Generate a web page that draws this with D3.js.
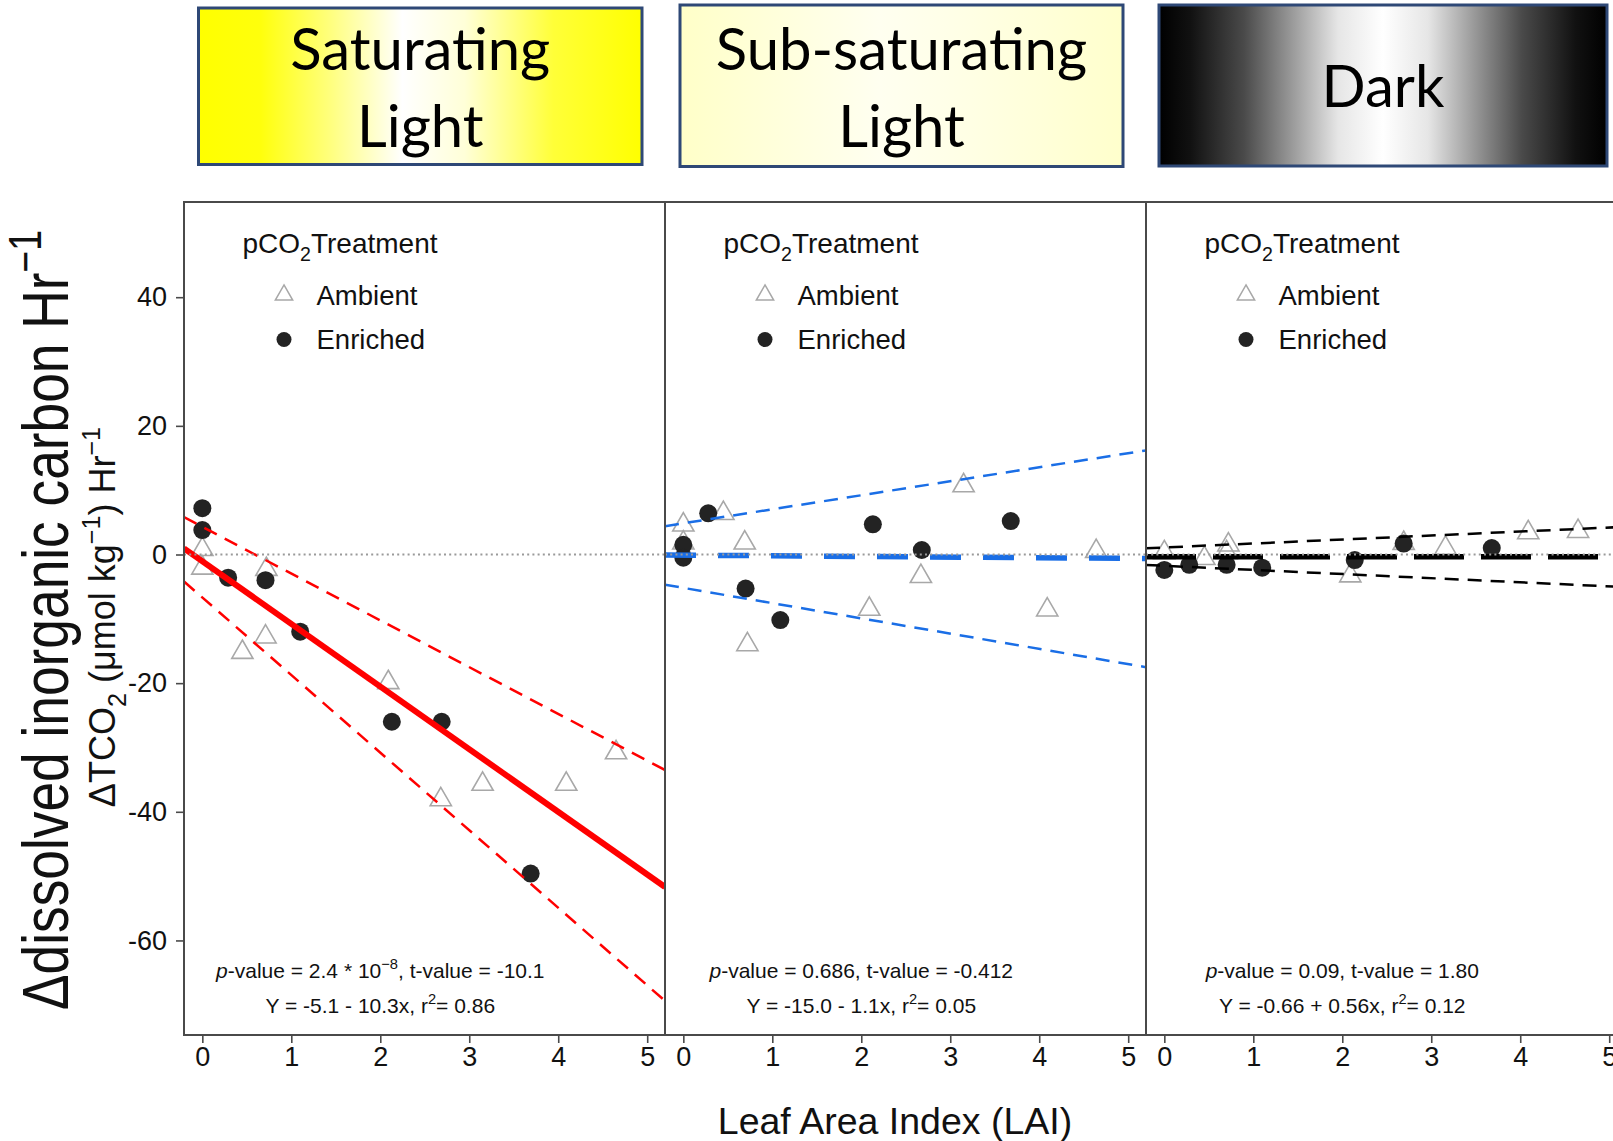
<!DOCTYPE html>
<html>
<head>
<meta charset="utf-8">
<script src="https://cdn.jsdelivr.net/npm/d3@7"></script>
<style>
  body { margin: 0; background: #fff; }
  svg { display: block; font-family: "Liberation Sans", Arial, sans-serif; }
</style>
</head>
<body>
<script>
// ---- data ----
const headers = [['Saturating', 'Light'], ['Sub-saturating', 'Light'], ['Dark']];
const laiTicks = [0, 1, 2, 3, 4, 5];
const dicTicks = [-60, -40, -20, 0, 20, 40];
const treatments = ['Ambient', 'Enriched'];

// [LAI, delta TCO2]
const satAmbient = [[0, 0.8], [0, -2.1], [0.72, -2.3], [0.45, -15.2], [0.71, -12.8], [2.09, -19.9],
  [2.68, -38.1], [3.15, -35.7], [4.09, -35.7], [4.65, -30.8]];
const satEnriched = [[0, 7.2], [0, 3.8], [0.29, -3.6], [0.71, -4.0], [1.10, -12.0], [2.13, -26.0],
  [2.69, -26.0], [3.69, -49.6]];
const subAmbient = [[0, 4.6], [0, 1.8], [0.45, 6.4], [0.69, 1.8], [2.09, -8.5], [2.67, -3.4],
  [3.15, 10.7], [4.09, -8.6], [4.64, 0.5], [0.72, -14.0]];
const subEnriched = [[0, 1.5], [0, -0.5], [0.28, 6.4], [0.70, -5.3], [1.09, -10.2], [2.13, 4.7],
  [2.68, 0.7], [3.68, 5.2]];
const darkAmbient = [[0, 0.3], [0.45, -0.6], [0.70, 0.3], [0.72, 1.5], [2.09, -3.3], [2.69, 1.75],
  [3.16, 1.0], [4.09, 3.4], [4.65, 3.6]];
const darkEnriched = [[0, -2.4], [0.28, -1.6], [0.70, -1.6], [1.10, -2.05], [2.14, -0.86],
  [2.69, 1.7], [3.68, 1.0]];

// [intercept, slope] of drawn fit and band lines
const fitLines = [[-1.05, -9.74], [-0.1, -0.1], [-0.35, 0]];
const upperLines = [[4.30, -7.27], [4.85, 2.18], [1.09, 0.62]];
const lowerLines = [[-6.68, -12.06], [-5.19, -2.37], [-1.76, -0.64]];

const pStats = [['2.4 * 10', '−8', '-10.1'], ['0.686', null, '-0.412'], ['0.09', null, '1.80']];
const equations = [['-5.1 - 10.3x', '0.86'], ['-15.0 - 1.1x', '0.05'], ['-0.66 + 0.56x', '0.12']];

const ambientSets = [satAmbient, subAmbient, darkAmbient];
const enrichedSets = [satEnriched, subEnriched, darkEnriched];

// ---- look ----
const W = 1613, H = 1141;
const plotLeft = 184, plotTop = 202, plotBottom = 1035, panelWidth = 481;
const lineStyles = [
  { color: '#ff0000', fitDash: null, fitWidth: 6 },
  { color: '#1a6ee6', fitDash: '31,22', fitWidth: 5.5 },
  { color: '#000000', fitDash: '50,17', fitWidth: 5.5 }
];
const boxes = [
  { x: 198.5, y: 8, w: 443.5, h: 156.5, grad: 'gSat' },
  { x: 680, y: 5, w: 443, h: 161.5, grad: 'gSub' },
  { x: 1159, y: 5, w: 448, h: 161, grad: 'gDark' }
];

const svg = d3.select('body').append('svg').attr('width', W).attr('height', H);
const defs = svg.append('defs');

function gradient(id, stops) {
  const lg = defs.append('linearGradient').attr('id', id).attr('x1', 0).attr('x2', 1).attr('y1', 0).attr('y2', 0);
  stops.forEach(([o, c]) => lg.append('stop').attr('offset', o).attr('stop-color', c));
}
gradient('gSat', [[0, '#ffff00'], [0.14, '#ffff0c'], [0.3, '#ffff80'], [0.46, '#ffffff'], [0.6, '#ffffd8'], [0.8, '#ffff38'], [1, '#ffff00']]);
gradient('gSub', [[0, '#ffffc8'], [0.45, '#fffff0'], [0.6, '#ffffe8'], [1, '#ffffcc']]);
gradient('gDark', [[0, '#000000'], [0.07, '#111111'], [0.19, '#4a4a4a'], [0.3, '#9c9c9c'], [0.4, '#e6e6e6'],
  [0.5, '#ffffff'], [0.6, '#e6e6e6'], [0.7, '#9c9c9c'], [0.81, '#4a4a4a'], [0.93, '#111111'], [1, '#000000']]);

// rich text: parts are strings or [string, 'sup'|'sub'|'i']
function rich(text, parts, size) {
  let shift = 0;
  parts.forEach(p => {
    const [str, kind] = typeof p === 'string' ? [p, 'n'] : p;
    const target = kind === 'sup' ? -0.42 * size : kind === 'sub' ? 0.3 * size : 0;
    text.append('tspan')
      .attr('dy', target - shift)
      .attr('font-size', kind === 'sup' || kind === 'sub' ? size * 0.7 : size)
      .attr('font-style', kind === 'i' ? 'italic' : null)
      .text(str);
    shift = target;
  });
}

// header boxes
boxes.forEach((b, i) => {
  const g = svg.append('g');
  g.append('rect').attr('x', b.x).attr('y', b.y).attr('width', b.w).attr('height', b.h)
    .attr('fill', `url(#${b.grad})`).attr('stroke', '#2e4876').attr('stroke-width', 3);
  const lines = headers[i];
  const baselines = lines.length === 2 ? [70, 147] : [107];
  lines.forEach((t, j) => {
    g.append('text').attr('x', b.x + b.w / 2).attr('y', baselines[j])
      .attr('text-anchor', 'middle').attr('font-family', 'Lato, "Open Sans", sans-serif')
      .attr('font-size', 58).attr('fill', '#000').text(t);
  });
});

const x = d3.scaleLinear().domain([-0.206, 5.2]).range([0, panelWidth]);
const y = d3.scaleLinear().domain([-74.7, 54.8]).range([plotBottom, plotTop]);
const fitLine = ([a, b]) => d3.line().x(d => x(d)).y(d => y(a + b * d))(x.domain());

headers.forEach((h, i) => {
  const left = plotLeft + i * panelWidth;
  const st = lineStyles[i];
  const g = svg.append('g').attr('transform', `translate(${left},0)`);

  defs.append('clipPath').attr('id', `clip${i}`)
    .append('rect').attr('x', 0).attr('y', plotTop).attr('width', panelWidth).attr('height', plotBottom - plotTop);
  const plot = g.append('g').attr('clip-path', `url(#clip${i})`);

  // points
  plot.selectAll('.amb').data(ambientSets[i]).join('path')
    .attr('class', 'amb')
    .attr('d', d3.symbol(d3.symbolTriangle, 195))
    .attr('transform', d => `translate(${x(d[0])},${y(d[1])})`)
    .attr('fill', 'none').attr('stroke', '#a8a8a8').attr('stroke-width', 1.6);
  plot.selectAll('.enr').data(enrichedSets[i]).join('circle')
    .attr('class', 'enr')
    .attr('cx', d => x(d[0])).attr('cy', d => y(d[1])).attr('r', 9)
    .attr('fill', '#232323');

  // band and fit lines
  [upperLines[i], lowerLines[i]].forEach(l => {
    plot.append('path').attr('d', fitLine(l)).attr('fill', 'none')
      .attr('stroke', st.color).attr('stroke-width', 2.5).attr('stroke-dasharray', '14,9');
  });
  plot.append('path').attr('d', fitLine(fitLines[i])).attr('fill', 'none')
    .attr('stroke', st.color).attr('stroke-width', st.fitWidth)
    .attr('stroke-dasharray', st.fitDash);

  // zero reference
  plot.append('line').attr('x1', 0).attr('x2', panelWidth).attr('y1', y(0)).attr('y2', y(0))
    .attr('stroke', '#9a9a9a').attr('stroke-width', 2.2).attr('stroke-dasharray', '2,3.2');

  // frame
  g.append('rect').attr('x', 0).attr('y', plotTop).attr('width', panelWidth).attr('height', plotBottom - plotTop)
    .attr('fill', 'none').attr('stroke', '#4a4a4a').attr('stroke-width', 2);

  // x axis
  const xa = g.append('g').attr('transform', `translate(0,${plotBottom})`)
    .call(d3.axisBottom(x).tickValues(laiTicks).tickFormat(d => String(d)).tickSize(8).tickSizeOuter(0).tickPadding(4));
  xa.select('.domain').remove();
  xa.selectAll('line').attr('stroke', '#4a4a4a').attr('stroke-width', 1.6);
  xa.selectAll('text').attr('font-size', 27).attr('fill', '#111').attr('font-family', '"Liberation Sans", Arial, sans-serif');

  if (i === 0) {
    const ya = g.append('g')
      .call(d3.axisLeft(y).tickValues(dicTicks).tickFormat(d => String(d)).tickSize(8).tickSizeOuter(0).tickPadding(9));
    ya.select('.domain').remove();
    ya.selectAll('line').attr('stroke', '#4a4a4a').attr('stroke-width', 1.6);
    ya.selectAll('text').attr('font-size', 27).attr('fill', '#111').attr('font-family', '"Liberation Sans", Arial, sans-serif');
  }

  // legend
  const lg = g.append('g');
  rich(lg.append('text').attr('x', 58.5).attr('y', 253).attr('fill', '#111'), ['pCO', ['2', 'sub'], 'Treatment'], 28);
  lg.append('path').attr('d', d3.symbol(d3.symbolTriangle, 130)())
    .attr('transform', 'translate(100,295)').attr('fill', 'none').attr('stroke', '#a8a8a8').attr('stroke-width', 1.5);
  lg.append('circle').attr('cx', 100).attr('cy', 339.5).attr('r', 7.5).attr('fill', '#232323');
  treatments.forEach((t, j) => {
    lg.append('text').attr('x', 132.5).attr('y', 305 + j * 44).attr('font-size', 27.5).attr('fill', '#111').text(t);
  });

  // statistics
  const [pv, pexp, tv] = pStats[i];
  const s1 = g.append('text').attr('x', x(2)).attr('y', 978).attr('text-anchor', 'middle').attr('fill', '#111');
  const parts1 = [['p', 'i'], '-value = ' + pv];
  if (pexp) parts1.push([pexp, 'sup']);
  parts1.push(', t-value = ' + tv);
  rich(s1, parts1, 21);
  const [eq, r2] = equations[i];
  const s2 = g.append('text').attr('x', x(2)).attr('y', 1013).attr('text-anchor', 'middle').attr('fill', '#111');
  rich(s2, ['Y = ' + eq + ', r', ['2', 'sup'], '= ' + r2], 21);
});

// axis titles
svg.append('text').attr('x', 895).attr('y', 1134).attr('text-anchor', 'middle')
  .attr('font-size', 37.5).attr('fill', '#111').text('Leaf Area Index (LAI)');

const t1 = svg.append('text').attr('text-anchor', 'middle').attr('fill', '#111')
  .attr('transform', 'translate(68,620) rotate(-90) scale(0.82,1)');
rich(t1, ['Δdissolved inorganic carbon Hr', ['−1', 'sup']], 65);

const t2 = svg.append('text').attr('text-anchor', 'middle').attr('fill', '#111')
  .attr('transform', 'translate(115,617) rotate(-90)');
rich(t2, ['ΔTCO', ['2', 'sub'], ' (μmol kg', ['−1', 'sup'], ') Hr', ['−1', 'sup']], 36);
</script>
</body>
</html>
